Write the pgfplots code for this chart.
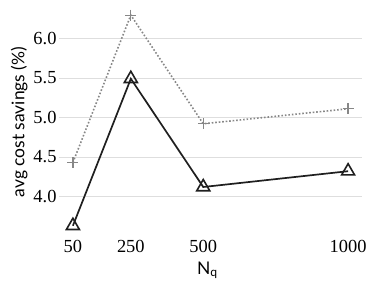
\documentclass[border=0pt]{standalone}
\usepackage{pgfplots}
\pgfplotsset{compat=1.18}
\usepackage{fontspec}
\setmainfont{Liberation Serif}
\newfontfamily\labelfont{Lato}
\begin{document}
\begin{tikzpicture}[x=1bp,y=1bp]
\begin{axis}[
  scale only axis,
  width=303bp, height=228bp,
  xmin=2, xmax=1048,
  ymin=3.5, ymax=6.385,
  axis line style={draw=none},
  tick style={draw=none},
  xtick={50,250,500,1000},
  ytick={4.0,4.5,5.0,5.5,6.0},
  /pgf/number format/1000 sep={},
  yticklabel style={/pgf/number format/fixed, /pgf/number format/fixed zerofill, /pgf/number format/precision=1, xshift=1bp},
  ymajorgrids,
  grid style={draw=black!13, line width=0.8bp},
  /pgf/number format/assume math mode=true,
  ticklabel style={font=\fontsize{18.5}{20}\selectfont},
  xticklabel style={yshift=-1bp},
  xlabel={\labelfont N\textsubscript{q}},
  ylabel={\labelfont avg cost savings (\%)},
  label style={font=\fontsize{17.5}{19}\selectfont},
  ylabel style={yshift=-1bp},
  xlabel style={yshift=-2bp, xshift=-3bp},
  clip=false,
]
\addplot[color=black!47, dash pattern={on 1.6bp off 1.9bp}, line width=1.6bp, mark=+, mark size=5.5bp, mark options={solid, line width=1.2bp}]
  coordinates {(50,4.43) (250,6.295) (500,4.92) (1000,5.11)};
\addplot[color=black!88, solid, line width=1.7bp, mark=triangle, mark size=7.5bp, mark options={line width=1.6bp}]
  coordinates {(50,3.63) (250,5.49) (500,4.12) (1000,4.32)};
\coordinate (bl) at (rel axis cs:0,0);
\end{axis}
\pgfresetboundingbox
\useasboundingbox ([shift={(-59bp,-54bp)}]bl) rectangle ([shift={(315bp,236bp)}]bl);
\end{tikzpicture}
\end{document}
